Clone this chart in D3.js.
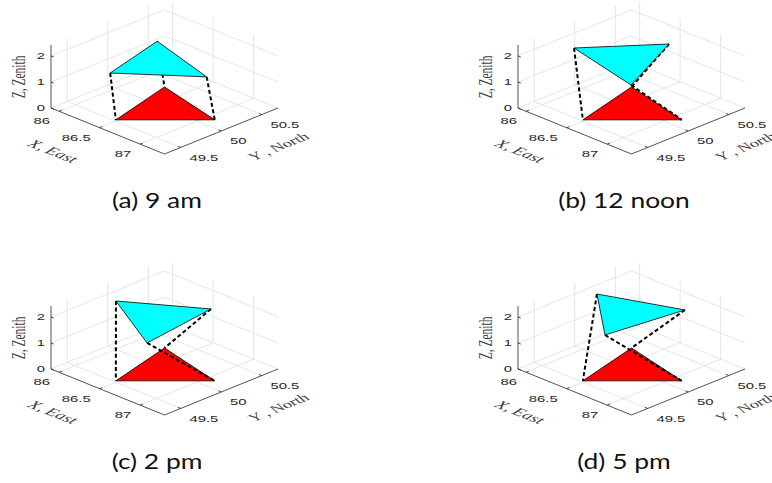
<!DOCTYPE html>
<meta charset="utf-8">
<script src="https://cdn.jsdelivr.net/npm/d3@7"></script>
<style>
  body { margin: 0; background: #fff; }
  .tick { font-family: "Liberation Sans", Arial, sans-serif; font-size: 9px; fill: #262626; }
  .alabel { font-family: "Liberation Serif", "DejaVu Serif", serif; font-size: 11.5px; fill: #404040; }
  .cap { font-family: "Lato", "Open Sans", sans-serif; font-size: 22px; fill: #111; }
</style>
<body>
<div id="viz"></div>
<script>
// axis limits and ticks, the same in all four panels
const xLim = [85.9, 87.3];
const yLim = [49.3, 50.7];
const zLim = [0, 2.42];
const xTicks = [86, 86.5, 87];
const yTicks = [49.5, 50, 50.5];
const zTicks = [0, 1, 2];

// red triangle on the ground (z = 0)
const groundX = [86.48, 86.28, 87.09];
const groundY = [49.52, 50.32, 50.13];
const groundZ = [0, 0, 0];

// cyan triangle, one row per time of day
const captions = ["(a) 9 am", "(b) 12 noon", "(c) 2 pm", "(d) 5 pm"];
const cyanX = [[86.45, 86.24, 87.04], [86.125, 86.65, 87.04], [86.058, 86.766, 86.889], [86.038, 86.824, 86.711]];
const cyanY = [[49.48, 50.27, 50.08], [49.766, 50.413, 49.555], [49.943, 50.408, 49.496], [50.136, 50.436, 49.562]];
const cyanZ = [[1.81, 1.77, 1.65], [2, 2, 2], [2, 2, 2], [2, 2, 2]];

const width = 772, height = 483;
const offsets = [[0, 0], [467, 0], [0, 261], [467, 261]];
const S = 1.65; // the source picture is stretched sideways, text too

// projection of the 3d box: corner (xmin,ymin,0), one screen vector per axis
const L = [51, 108], ex = [113.5, 46], ey = [113.5, -46];
const xs = d3.scaleLinear().domain(xLim).range([0, 1]);
const ys = d3.scaleLinear().domain(yLim).range([0, 1]);
const zs = d3.scaleLinear().domain(zLim).range([0, 63]);
const P = (p) => {
  const a = xs(p[0]), b = ys(p[1]);
  return [L[0] + ex[0] * a + ey[0] * b, L[1] + ex[1] * a + ey[1] * b - zs(p[2])];
};
const line = d3.line();
const seg = (a, b) => line([P(a), P(b)]);

const svg = d3.select("#viz").append("svg")
  .attr("width", width)
  .attr("height", height);

// grid on the floor and the two back walls
const x0 = xLim[0], x1 = xLim[1], y0 = yLim[0], y1 = yLim[1], z1 = zLim[1];
const grid = [];
xTicks.forEach(t => { grid.push([[t, y0, 0], [t, y1, 0]]); grid.push([[t, y1, 0], [t, y1, z1]]); });
yTicks.forEach(t => { grid.push([[x0, t, 0], [x1, t, 0]]); grid.push([[x0, t, 0], [x0, t, z1]]); });
zTicks.forEach(t => { grid.push([[x0, y0, t], [x0, y1, t]]); grid.push([[x0, y1, t], [x1, y1, t]]); });

const axes = [
  [[x0, y0, 0], [x1, y0, 0]],
  [[x1, y0, 0], [x1, y1, 0]],
  [[x0, y0, 0], [x0, y0, z1]]
];
const tl = 0.025;
const tickSegs = [
  ...xTicks.map(t => [[t, y0, 0], [t, y0 + tl * (y1 - y0), 0]]),
  ...yTicks.map(t => [[x1, t, 0], [x1 - tl * (x1 - x0), t, 0]]),
  ...zTicks.map(t => [[x0, y0, t], [x0 + tl * (x1 - x0), y0, t]])
];

function stretchText(g, x, y, txt, cls, anchor, rot) {
  return g.append("text").attr("class", cls)
    .attr("transform", `translate(${x},${y}) scale(${S},1) rotate(${rot || 0})`)
    .attr("text-anchor", anchor)
    .attr("dy", "0.35em")
    .text(txt);
}

captions.forEach((cap, i) => {
  const g = svg.append("g").attr("transform", `translate(${offsets[i]})`);
  const p = g;

  p.selectAll("path.grid").data(grid).enter().append("path")
    .attr("class", "grid")
    .attr("d", d => seg(d[0], d[1]))
    .attr("stroke", "#dedede").attr("stroke-width", 0.8).attr("fill", "none");

  p.selectAll("path.axis").data(axes.concat(tickSegs)).enter().append("path")
    .attr("class", "axis")
    .attr("d", d => seg(d[0], d[1]))
    .attr("stroke", "#262626").attr("stroke-width", 0.8).attr("fill", "none");

  // tick labels
  xTicks.forEach(t => {
    const q = P([t, y0, 0]);
    stretchText(p, q[0] - 9, q[1] + 10, d3.format("")(t), "tick", "end");
  });
  yTicks.forEach(t => {
    const q = P([x1, t, 0]);
    stretchText(p, q[0] + 8.7, q[1] + 10, d3.format("")(t), "tick", "start");
  });
  zTicks.forEach(t => {
    const q = P([x0, y0, t]);
    stretchText(p, q[0] - 6, q[1], d3.format("")(t), "tick", "end");
  });

  // axis labels
  const angX = Math.atan2(S * ex[1], ex[0]) * 180 / Math.PI;
  const angY = Math.atan2(S * ey[1], ey[0]) * 180 / Math.PI;
  stretchText(p, 53, 151, "X, East", "alabel", "middle", angX).style("font-style", "italic");
  stretchText(p, 250, 158, "Y , North", "alabel", "start", angY).style("font-size", "11px");
  stretchText(p, 18, 77, "Z, Zenith", "alabel", "middle", -90);

  // triangles and the dashed links
  const ground = groundX.map((x, k) => [x, groundY[k], groundZ[k]]);
  const sky = cyanX[i].map((x, k) => [x, cyanY[i][k], cyanZ[i][k]]);

  p.append("path")
    .attr("d", line(ground.map(P)) + "Z")
    .attr("fill", "#ff0000").attr("stroke", "#000").attr("stroke-width", 0.8);

  p.selectAll("path.link").data(d3.range(3)).enter().append("path")
    .attr("class", "link")
    .attr("d", k => seg(sky[k], ground[k]))
    .attr("stroke", "#000").attr("stroke-width", 2)
    .attr("stroke-dasharray", "4,2.6").attr("fill", "none");

  p.append("path")
    .attr("d", line(sky.map(P)) + "Z")
    .attr("fill", "#00ffff").attr("stroke", "#000").attr("stroke-width", 0.8);

  g.append("text").attr("class", "cap")
    .attr("transform", `translate(157,208) scale(1.2,1)`)
    .attr("text-anchor", "middle")
    .text(cap);
});
</script>
</body>
